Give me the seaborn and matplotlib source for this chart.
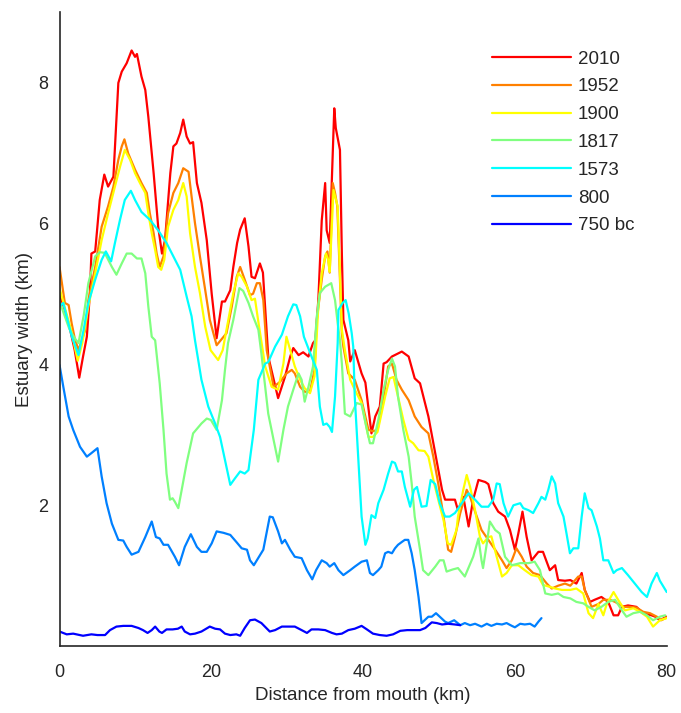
import matplotlib
matplotlib.use("Agg")
import matplotlib.pyplot as plt
import pandas as pd
import seaborn as sns
from matplotlib.lines import Line2D

# Estuary width (km) against distance from the mouth (km), one list of (distance, width) per survey
width_2010 = [(0, 5.0), (0.7, 4.77), (1.4, 4.49), (2.0, 4.2), (2.6, 3.81), (3.1, 4.11), (3.6, 4.39), (4.0, 5.0), (4.2, 5.57), (4.7, 5.6),
              (5.3, 6.33), (5.9, 6.69), (6.4, 6.52), (7.1, 6.66), (7.75, 7.99), (8.2, 8.15), (8.85, 8.27), (9.5, 8.45), (9.95, 8.36), (10.2, 8.4),
              (10.8, 8.08), (11.3, 7.89), (11.7, 7.51), (12.4, 6.71), (13.0, 5.95), (13.5, 5.57), (13.9, 5.76), (14.6, 6.71), (15.0, 7.09), (15.4, 7.13),
              (15.9, 7.28), (16.3, 7.47), (16.75, 7.23), (17.2, 7.13), (17.6, 7.15), (18.1, 6.57), (18.7, 6.29), (19.4, 5.76), (20.05, 5.0), (20.7, 4.37),
              (21.4, 4.89), (21.8, 4.89), (22.5, 5.05), (22.9, 5.38), (23.4, 5.72), (23.8, 5.91), (24.4, 6.07), (24.9, 5.67), (25.3, 5.24), (25.75, 5.22),
              (26.4, 5.43), (26.8, 5.3), (27.5, 4.11), (28.8, 3.52), (29.7, 3.82), (30.4, 4.11), (30.8, 4.23), (31.5, 4.13), (32.1, 4.17), (32.8, 4.11),
              (33.4, 4.3), (33.7, 4.34), (34.1, 4.91), (34.55, 6.04), (35.0, 6.57), (35.2, 5.9), (35.6, 5.72), (36.2, 7.63), (36.4, 7.35), (36.95, 7.04),
              (37.2, 5.57), (37.4, 4.63), (38.05, 4.34), (38.3, 4.04), (38.9, 4.2), (39.8, 3.87), (40.3, 3.74), (41.1, 3.02), (41.6, 3.26), (42.2, 3.4),
              (42.7, 4.01), (43.1, 4.03), (43.8, 4.11), (45.1, 4.18), (46.0, 4.11), (46.8, 3.8), (47.5, 3.73), (48.6, 3.26), (49.5, 2.74), (50.4, 2.22),
              (50.8, 2.08), (51.6, 2.08), (52.1, 2.08), (52.5, 1.93), (53.2, 2.12), (53.9, 1.7), (54.5, 2.08), (55.2, 2.36), (56.1, 2.33), (56.5, 2.3),
              (57.15, 2.03), (57.8, 1.91), (58.7, 1.84), (59.35, 1.65), (60.0, 1.37), (60.45, 1.6), (61.0, 1.91), (61.55, 1.55), (62.2, 1.22), (63.1, 1.34),
              (63.7, 1.34), (64.6, 1.08), (65.3, 1.15), (65.7, 0.94), (66.6, 0.93), (67.3, 0.94), (68.1, 0.89), (68.8, 1.04), (69.2, 0.8), (69.9, 0.63),
              (70.5, 0.66), (71.4, 0.7), (72.3, 0.63), (73.0, 0.44), (73.6, 0.44), (74.1, 0.56), (74.9, 0.58), (76.0, 0.56), (76.9, 0.47), (78.0, 0.44),
              (78.5, 0.42), (79.1, 0.37), (80, 0.42)]

width_1952 = [(0, 5.38), (0.7, 4.87), (1.2, 4.84), (1.6, 4.58), (2.0, 4.37), (2.5, 4.2), (3.4, 4.49), (3.8, 4.91), (4.7, 5.38), (5.55, 5.95),
              (6.4, 6.24), (7.1, 6.52), (7.75, 6.9), (8.2, 7.09), (8.55, 7.19), (9.05, 6.99), (9.95, 6.76), (10.8, 6.57), (11.5, 6.43), (11.9, 6.14),
              (12.4, 5.86), (12.8, 5.57), (13.2, 5.38), (13.7, 5.53), (14.3, 6.14), (15.0, 6.43), (15.65, 6.57), (16.3, 6.78), (17.0, 6.73), (17.4, 6.38),
              (17.85, 6.0), (18.5, 5.53), (19.2, 5.05), (19.8, 4.63), (20.7, 4.27), (22.0, 4.44), (22.7, 4.82), (23.35, 5.24), (23.8, 5.38), (24.4, 5.2),
              (25.1, 4.98), (25.5, 5.0), (26.0, 5.15), (26.4, 5.15), (26.85, 4.91), (27.3, 4.2), (28.2, 3.68), (29.05, 3.75), (29.9, 3.87), (30.6, 3.92),
              (31.0, 3.87), (31.7, 3.68), (32.3, 3.61), (33.0, 3.61), (33.6, 3.92), (33.9, 4.63), (34.55, 5.2), (35.0, 5.53), (35.3, 5.6), (35.6, 5.3),
              (36.0, 6.57), (36.3, 6.43), (36.6, 6.24), (36.95, 5.2), (37.2, 4.44), (37.4, 4.25), (38.05, 3.87), (38.9, 3.78), (39.8, 3.49), (40.7, 3.07),
              (41.3, 3.05), (41.9, 3.07), (42.7, 3.54), (43.3, 3.97), (43.8, 4.01), (44.4, 3.78), (45.1, 3.64), (46.0, 3.49), (46.8, 3.26), (47.7, 3.11),
              (48.6, 3.02), (49.25, 2.69), (49.9, 2.31), (50.6, 1.84), (51.2, 1.37), (51.6, 1.34), (52.1, 1.55), (52.8, 1.89), (53.65, 2.22), (54.1, 2.12),
              (54.75, 1.91), (55.6, 1.65), (56.5, 1.51), (57.4, 1.37), (58.3, 1.22), (58.9, 1.11), (59.6, 1.22), (60.2, 1.39), (60.9, 1.27), (61.55, 1.13),
              (62.4, 1.04), (63.3, 1.01), (64.2, 0.89), (64.85, 0.82), (65.7, 0.86), (66.6, 0.89), (67.3, 0.86), (68.35, 0.99), (68.8, 0.99), (69.2, 0.8),
              (70.1, 0.56), (71.0, 0.6), (71.65, 0.66), (72.5, 0.66), (73.2, 0.63), (74.3, 0.56), (75.1, 0.56), (76.0, 0.55), (76.9, 0.49), (77.8, 0.47),
              (78.7, 0.42), (79.3, 0.37), (80, 0.41)]

width_1900 = [(0, 5.08), (0.7, 4.8), (1.5, 4.5), (2.4, 4.05), (3.0, 4.3), (3.8, 4.82), (4.7, 5.29), (5.55, 5.76), (6.4, 6.14), (7.3, 6.52),
              (7.97, 6.8), (8.6, 7.04), (9.3, 6.9), (9.95, 6.71), (10.6, 6.57), (11.3, 6.43), (11.7, 6.14), (12.15, 5.86), (12.6, 5.62), (13.0, 5.38),
              (13.4, 5.34), (13.8, 5.48), (14.3, 5.95), (15.0, 6.19), (15.65, 6.33), (16.3, 6.57), (16.75, 6.38), (17.2, 5.86), (17.85, 5.38), (18.5, 5.01),
              (19.2, 4.53), (19.9, 4.2), (20.9, 4.06), (21.5, 4.2), (22.0, 4.49), (22.9, 5.01), (23.55, 5.29), (24.0, 5.24), (24.7, 5.1), (25.3, 4.91),
              (25.75, 4.93), (26.2, 4.6), (27.1, 3.97), (27.95, 3.68), (28.8, 3.64), (29.5, 4.01), (29.9, 4.39), (30.4, 4.2), (31.0, 3.97), (31.7, 3.78),
              (32.3, 3.66), (33.0, 3.59), (33.6, 3.83), (34.1, 4.82), (34.55, 5.29), (35.1, 5.57), (35.4, 5.48), (35.6, 5.31), (36.1, 6.47), (36.65, 6.24),
              (36.95, 5.29), (37.2, 4.49), (37.6, 4.2), (38.3, 3.78), (38.9, 3.64), (39.8, 3.45), (40.7, 2.97), (41.3, 2.97), (41.9, 3.04), (42.9, 3.54),
              (43.5, 3.8), (44.0, 3.82), (44.6, 3.54), (45.3, 3.21), (46.0, 2.93), (46.6, 2.88), (47.3, 2.78), (48.1, 2.77), (48.6, 2.69), (49.25, 2.36),
              (49.9, 2.08), (50.6, 1.79), (51.15, 1.46), (51.6, 1.44), (52.3, 1.65), (52.5, 1.84), (53.2, 2.22), (53.65, 2.43), (54.1, 2.26), (54.75, 1.93),
              (55.4, 1.55), (55.8, 1.46), (56.5, 1.55), (56.9, 1.56), (57.6, 1.27), (58.3, 0.99), (58.9, 1.04), (59.6, 1.15), (60.45, 1.15), (61.3, 1.08),
              (62.2, 1.01), (63.1, 0.99), (63.7, 0.87), (64.4, 0.85), (65.3, 0.82), (66.2, 0.8), (67.3, 0.8), (68.1, 0.82), (69.0, 0.75), (69.7, 0.47),
              (70.3, 0.4), (71.0, 0.6), (71.65, 0.44), (72.1, 0.6), (73.0, 0.77), (73.6, 0.66), (74.5, 0.51), (75.6, 0.54), (76.5, 0.49), (77.4, 0.42),
              (78.2, 0.28), (79.1, 0.37), (80, 0.4)]

width_1817 = [(0, 4.89), (0.7, 4.68), (1.3, 4.5), (2.0, 4.37), (2.5, 4.3), (3.2, 4.7), (3.8, 5.15), (4.7, 5.53), (5.3, 5.59), (5.95, 5.58),
              (6.9, 5.38), (7.5, 5.27), (8.2, 5.43), (8.85, 5.57), (9.5, 5.57), (10.2, 5.5), (10.8, 5.5), (11.3, 5.29), (11.7, 4.82), (12.15, 4.39),
              (12.6, 4.34), (13.2, 3.73), (13.7, 3.07), (14.1, 2.45), (14.55, 2.08), (14.9, 2.1), (15.2, 2.05), (15.65, 1.96), (16.1, 2.22), (16.75, 2.6),
              (17.6, 3.02), (18.7, 3.16), (19.4, 3.23), (19.95, 3.21), (20.7, 3.07), (21.4, 3.49), (21.8, 3.92), (22.2, 4.3), (22.9, 4.63), (23.7, 5.08),
              (24.2, 5.04), (24.9, 4.87), (25.5, 4.68), (26.2, 4.49), (26.6, 4.15), (27.5, 3.3), (28.2, 2.93), (28.8, 2.62), (29.5, 3.07), (30.1, 3.4),
              (30.8, 3.64), (31.5, 3.87), (31.9, 3.78), (32.3, 3.47), (32.8, 3.68), (33.4, 3.97), (33.9, 4.68), (34.3, 5.01), (35.0, 5.1), (35.8, 5.15),
              (36.3, 4.91), (36.65, 4.58), (36.95, 4.34), (37.2, 4.01), (37.6, 3.3), (38.3, 3.26), (39.15, 3.45), (39.8, 3.43), (40.5, 3.07), (40.9, 2.88),
              (41.3, 2.88), (42.0, 3.21), (42.7, 3.64), (43.3, 3.92), (43.8, 4.08), (44.2, 3.97), (44.6, 3.54), (45.3, 3.07), (46.0, 2.69), (46.4, 2.31),
              (46.8, 1.84), (47.5, 1.37), (47.9, 1.08), (48.6, 1.01), (49.5, 1.13), (50.1, 1.22), (50.6, 1.22), (51.0, 1.06), (51.8, 1.09), (52.5, 1.11),
              (53.4, 0.99), (54.5, 1.27), (55.2, 1.53), (55.6, 1.22), (55.8, 1.11), (56.3, 1.46), (56.7, 1.77), (57.4, 1.65), (58.0, 1.6), (58.7, 1.27),
              (59.6, 1.15), (60.7, 1.18), (61.8, 1.18), (62.6, 1.2), (63.3, 1.08), (64.0, 0.75), (64.85, 0.73), (65.7, 0.75), (66.4, 0.7), (67.3, 0.68),
              (68.1, 0.63), (69.0, 0.61), (69.7, 0.56), (70.5, 0.51), (71.4, 0.56), (72.3, 0.63), (73.2, 0.66), (74.1, 0.51), (74.7, 0.42), (75.6, 0.47),
              (76.5, 0.49), (77.4, 0.44), (78.2, 0.37), (79.1, 0.42), (79.8, 0.44)]

width_1573 = [(0, 4.82), (0.5, 4.87), (0.95, 4.68), (1.6, 4.4), (2.5, 4.13), (3.2, 4.5), (3.8, 4.87), (4.7, 5.2), (5.55, 5.48), (6.1, 5.6),
              (6.8, 5.46), (7.3, 5.72), (7.97, 6.05), (8.6, 6.33), (9.4, 6.46), (9.95, 6.33), (10.8, 6.16), (11.9, 6.05), (13.0, 5.9), (14.1, 5.72),
              (15.0, 5.53), (15.9, 5.34), (16.75, 4.96), (17.4, 4.68), (17.85, 4.34), (18.7, 3.78), (19.6, 3.4), (20.5, 3.16), (21.15, 2.97), (21.8, 2.64),
              (22.5, 2.29), (23.1, 2.38), (23.8, 2.48), (24.4, 2.45), (24.9, 2.5), (25.6, 3.07), (26.2, 3.78), (27.1, 4.01), (27.5, 4.03), (28.4, 4.25),
              (29.3, 4.42), (30.1, 4.68), (30.8, 4.85), (31.2, 4.84), (31.7, 4.68), (32.2, 4.39), (33.2, 4.11), (33.9, 3.92), (34.3, 3.4), (34.75, 3.14),
              (35.2, 3.16), (35.6, 3.11), (35.9, 3.04), (36.3, 3.54), (36.65, 4.3), (36.75, 4.77), (37.3, 4.87), (37.7, 4.91), (38.1, 4.72), (38.5, 4.44),
              (38.7, 4.25), (38.9, 3.54), (39.4, 2.6), (39.8, 1.84), (40.3, 1.44), (40.6, 1.53), (41.1, 1.86), (41.6, 1.82), (42.0, 2.03), (42.7, 2.22),
              (43.3, 2.45), (43.8, 2.62), (44.2, 2.6), (44.6, 2.48), (45.1, 2.48), (45.5, 2.26), (46.2, 1.98), (46.7, 2.22), (47.1, 2.26), (47.7, 1.98),
              (48.35, 1.99), (48.9, 2.36), (49.5, 2.3), (50.1, 2.03), (50.8, 1.84), (51.4, 1.84), (52.1, 1.89), (53.0, 2.03), (53.9, 2.17), (54.75, 2.08),
              (55.6, 1.98), (56.5, 1.98), (57.15, 2.08), (57.6, 2.31), (58.0, 2.3), (58.5, 2.03), (59.1, 1.84), (59.8, 2.0), (60.7, 2.03), (61.1, 1.96),
              (61.8, 1.93), (62.4, 1.89), (63.1, 2.03), (63.5, 2.12), (64.0, 2.08), (64.4, 2.22), (64.85, 2.41), (65.3, 2.31), (65.7, 2.03), (66.4, 1.84),
              (66.8, 1.6), (67.25, 1.32), (67.7, 1.39), (68.35, 1.39), (68.8, 1.84), (69.2, 2.17), (69.7, 1.96), (70.1, 1.93), (70.8, 1.7), (71.2, 1.53),
              (71.65, 1.22), (72.3, 1.22), (73.0, 1.04), (73.4, 1.08), (74.1, 1.11), (74.9, 1.01), (75.8, 0.89), (76.7, 0.77), (77.4, 0.7), (78.0, 0.89),
              (78.7, 1.04), (79.1, 0.93), (80, 0.77)]

width_800 = [(0, 3.99), (0.5, 3.68), (1.2, 3.26), (1.8, 3.07), (2.7, 2.83), (3.6, 2.69), (4.2, 2.74), (5.0, 2.81), (5.55, 2.41), (6.2, 2.03),
             (6.9, 1.74), (7.75, 1.51), (8.4, 1.5), (8.85, 1.41), (9.5, 1.3), (10.4, 1.34), (11.3, 1.55), (12.15, 1.77), (12.7, 1.55), (13.2, 1.53),
             (13.7, 1.44), (14.3, 1.44), (15.2, 1.27), (15.75, 1.15), (16.5, 1.41), (17.3, 1.59), (18.1, 1.41), (18.7, 1.34), (19.4, 1.34), (20.05, 1.46),
             (20.7, 1.63), (21.6, 1.61), (22.5, 1.58), (23.3, 1.48), (24.0, 1.39), (24.7, 1.37), (25.1, 1.22), (25.6, 1.15), (26.85, 1.37), (27.7, 1.84),
             (28.1, 1.83), (28.8, 1.63), (29.3, 1.46), (29.7, 1.51), (30.4, 1.37), (31.0, 1.27), (31.9, 1.25), (32.6, 1.08), (33.3, 0.95), (33.8, 1.08),
             (34.55, 1.22), (35.2, 1.18), (35.6, 1.13), (36.2, 1.18), (36.75, 1.08), (37.4, 1.01), (38.3, 1.08), (38.9, 1.13), (39.8, 1.2), (40.5, 1.22),
             (40.9, 1.04), (41.3, 1.01), (42.0, 1.08), (42.4, 1.13), (42.9, 1.32), (43.3, 1.34), (43.8, 1.32), (44.2, 1.39), (44.6, 1.44), (45.1, 1.48),
             (45.5, 1.51), (45.95, 1.51), (46.4, 1.32), (46.8, 1.08), (47.3, 0.7), (47.7, 0.33), (48.1, 0.37), (48.6, 0.42), (49.05, 0.42), (49.6, 0.47),
             (50.1, 0.42), (50.8, 0.35), (51.2, 0.33), (52.0, 0.37), (52.8, 0.3), (53.4, 0.33), (54.1, 0.3), (54.75, 0.32), (55.6, 0.28), (56.3, 0.32),
             (56.9, 0.29), (57.6, 0.32), (58.3, 0.31), (58.9, 0.33), (59.6, 0.29), (60.0, 0.27), (60.7, 0.32), (61.3, 0.31), (62.0, 0.32), (62.6, 0.28),
             (63.1, 0.35), (63.5, 0.4)]

width_750bc = [(0, 0.21), (0.95, 0.17), (1.8, 0.18), (3.1, 0.15), (4.2, 0.17), (5.0, 0.16), (6.0, 0.16), (6.65, 0.23), (7.5, 0.28), (8.4, 0.29),
               (9.5, 0.29), (10.4, 0.26), (11.0, 0.23), (11.6, 0.19), (12.15, 0.23), (12.6, 0.28), (13.15, 0.21), (13.5, 0.19), (14.1, 0.24), (14.9, 0.24),
               (15.6, 0.25), (16.1, 0.28), (16.5, 0.21), (17.2, 0.17), (17.85, 0.18), (18.7, 0.21), (19.8, 0.28), (20.5, 0.25), (21.15, 0.24), (21.8, 0.18),
               (22.5, 0.16), (23.3, 0.17), (23.8, 0.15), (24.4, 0.26), (25.1, 0.37), (25.75, 0.38), (26.6, 0.33), (27.7, 0.21), (28.4, 0.23), (29.3, 0.28),
               (30.1, 0.28), (31.0, 0.28), (31.9, 0.23), (32.6, 0.19), (33.2, 0.24), (34.1, 0.24), (35.0, 0.23), (35.9, 0.19), (36.5, 0.17), (37.2, 0.18),
               (38.05, 0.23), (38.9, 0.25), (39.8, 0.29), (40.5, 0.24), (41.3, 0.18), (42.2, 0.16), (43.1, 0.15), (43.95, 0.17), (44.9, 0.22), (45.8, 0.23),
               (46.7, 0.23), (47.5, 0.23), (48.2, 0.26), (49.05, 0.34), (49.7, 0.33), (50.4, 0.31), (51.2, 0.32), (52.1, 0.31), (52.8, 0.3)]

years = ["2010", "1952", "1900", "1817", "1573", "800", "750 bc"]
surveys = [width_2010, width_1952, width_1900, width_1817, width_1573, width_800, width_750bc]
colors = ["#ff0000", "#ff8000", "#ffff00", "#80ff80", "#00ffff", "#0080ff", "#0000ff"]
x_ticks = [0, 20, 40, 60, 80]
y_ticks = [2, 4, 6, 8]

frames = []
for year, pts in zip(years, surveys):
    df = pd.DataFrame(pts, columns=["distance", "width"])
    df["year"] = year
    frames.append(df)
data = pd.concat(frames, ignore_index=True)

sns.set_theme(style="white")
plt.rcParams["font.family"] = ["Liberation Sans", "DejaVu Sans"]

fig = plt.figure(figsize=(6.81, 7.13), dpi=100)
ax = fig.add_axes([0.0874, 0.0935, 0.8916, 0.8901])

sns.lineplot(data=data, x="distance", y="width", hue="year", hue_order=years,
             palette=dict(zip(years, colors)), sort=False, estimator=None,
             units="year", linewidth=1.6, legend=False, ax=ax)

ax.set_xlim(0, 80)
ax.set_ylim(0, 9)
ax.set_xticks(x_ticks)
ax.set_yticks(y_ticks)
ax.set_xlabel("Distance from mouth (km)", fontsize=13.5, color="#262626", labelpad=4)
ax.set_ylabel("Estuary width (km)", fontsize=13.5, color="#262626")
ax.tick_params(axis="both", direction="in", length=5, width=1, colors="#262626",
               labelsize=13)
ax.tick_params(axis="x", pad=13)
ax.tick_params(axis="y", pad=8)
for side in ["top", "right"]:
    ax.spines[side].set_visible(False)
for side in ["left", "bottom"]:
    ax.spines[side].set_color("#262626")
    ax.spines[side].set_linewidth(1.2)

handles = [Line2D([], [], color=c, lw=1.6) for c in colors]
ax.legend(handles, years, loc="upper left", bbox_to_anchor=(0.712, 0.939),
          frameon=False, fontsize=13.5, handlelength=4.2, handletextpad=0.4,
          labelspacing=0.57, borderpad=0, borderaxespad=0)

fig.savefig("out.png", dpi=100)
